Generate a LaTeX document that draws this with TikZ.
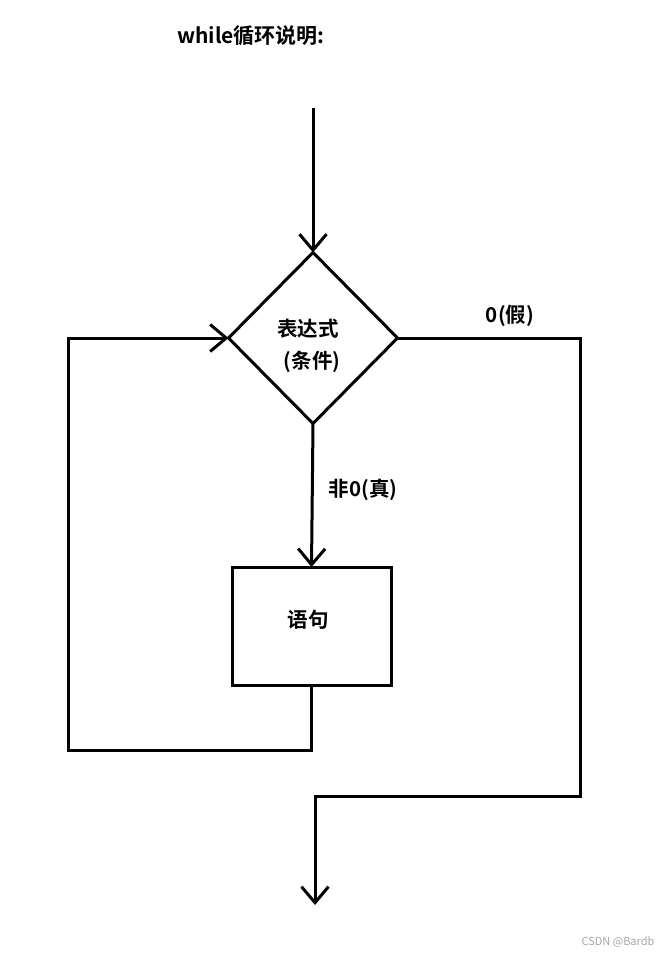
\documentclass[tikz,border=0pt]{standalone}
\usepackage{fontspec}
\setmainfont{Noto Sans CJK SC}[BoldFont={Noto Sans CJK SC Bold}]
\usetikzlibrary{shapes.geometric,arrows.meta}
\begin{document}
\begin{tikzpicture}[x=1pt,y=-1pt,
  ln/.style={line width=3pt,line join=miter},
  arr/.style={ln,-{Straight Barb[length=16pt,width=27pt,line width=3pt]}},
  dia/.style={draw,ln,diamond,minimum width=169pt,minimum height=171pt,inner sep=0pt,outer sep=0pt},
  stmt/.style={draw,ln,rectangle,minimum width=159pt,minimum height=118pt,inner sep=0pt,outer sep=0pt},
  txt/.style={font=\bfseries\fontsize{20.5}{24}\selectfont,inner sep=0pt},
  ttl/.style={font=\bfseries\fontsize{21}{24}\selectfont,inner sep=0pt},
  wm/.style={font=\fontsize{11}{13}\selectfont,text=black!35,inner sep=0pt}]
\useasboundingbox (0,0) rectangle (665,955);
\fill[white] (0,0) rectangle (665,955);
\node[ttl,anchor=west] (title) at (177,36) {while循环说明:};
\node[dia] (d) at (313,338) {};
\node[txt] (dt1) at (308,329) {表达式};
\node[txt] (dt2) at (312,362) {(条件)};
\node[stmt] (box) at (311.5,626) {};
\node[txt] (bt) at (308,620) {语句};
\node[txt] (lfalse) at (510,316) {0(假)};
\node[txt] (ltrue) at (363,490) {非0(真)};
\node[wm] (wmk) at (618,942) {CSDN @Bardb};
\coordinate (start) at (313,108);
\coordinate (b1) at (313,750);
\coordinate (b2) at (68,750);
\coordinate (b3) at (68,338);
\coordinate (r1) at (580,338);
\coordinate (r2) at (580,796);
\coordinate (r3) at (315,796);
\coordinate (finish) at (315,905);
\draw[arr] (start) -- (d.north);
\draw[arr] (d.south) -- (box.north);
\draw[arr] (box.south) -- (box.south |- b1) -- (b2) -- (b3) -- (d.west);
\draw[arr] (d.east) -- (r1) -- (r2) -- (r3) -- (finish);
\end{tikzpicture}
\end{document}
